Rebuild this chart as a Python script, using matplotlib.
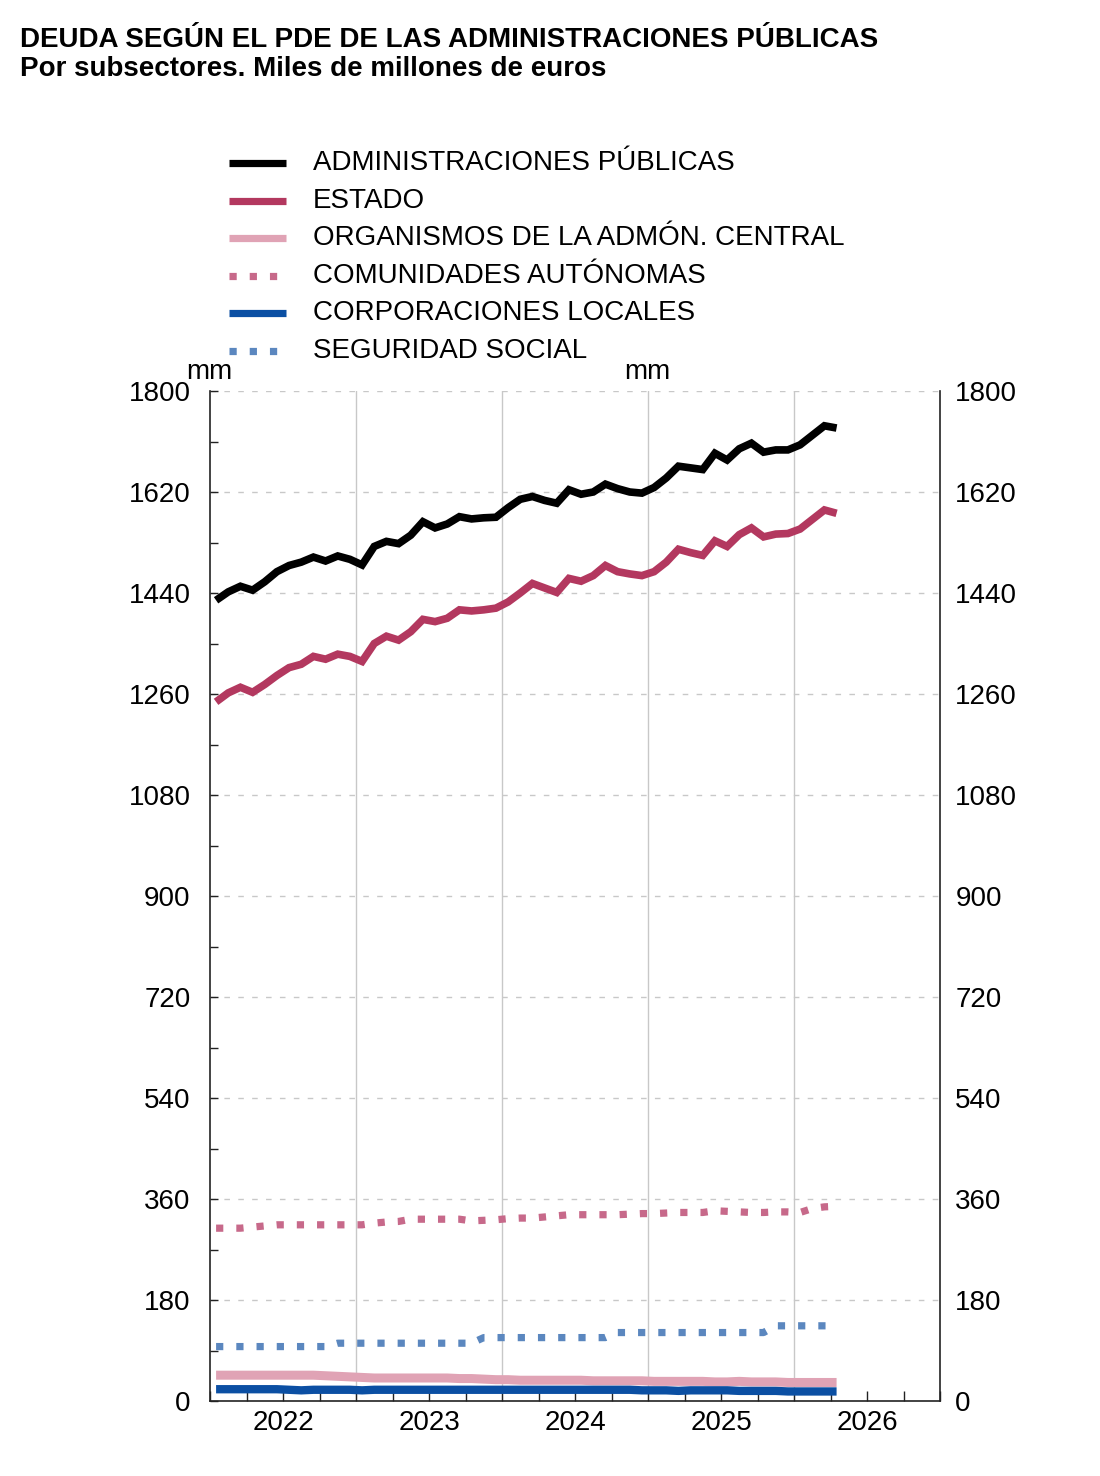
import matplotlib
matplotlib.use("Agg")
import matplotlib.pyplot as plt
import numpy as np
from matplotlib.lines import Line2D

plt.rcParams['font.family'] = ['Liberation Sans', 'DejaVu Sans']

# ---------------- data (monthly, Jan 2022 - Apr 2026) ----------------
months = np.arange(52)  # month index from Jan 2022
adm_publicas = [1427, 1442, 1452, 1445, 1460, 1478, 1489, 1495, 1504, 1497, 1506, 1500,
                1490, 1523, 1532, 1528, 1543, 1567, 1556, 1563, 1576, 1572, 1574, 1575,
                1592, 1607, 1612, 1605, 1600, 1624, 1616, 1620, 1634, 1626, 1620, 1618,
                1628, 1645, 1666, 1663, 1660, 1689, 1677, 1697, 1707, 1691, 1695, 1695,
                1704, 1721, 1738, 1734]
estado = [1246, 1262, 1272, 1263, 1277, 1293, 1307, 1313, 1327, 1322, 1331, 1327,
          1318, 1350, 1363, 1356, 1371, 1393, 1389, 1395, 1410, 1408, 1410, 1413,
          1424, 1440, 1457, 1449, 1441, 1466, 1461, 1471, 1489, 1478, 1474, 1471,
          1478, 1495, 1518, 1512, 1507, 1533, 1523, 1544, 1556, 1540, 1545, 1546,
          1554, 1571, 1588, 1582]
organismos = [46, 46, 46, 46, 46, 46, 46, 46, 46, 45, 44, 43,
              42, 41, 41, 41, 41, 41, 41, 41, 40, 40, 39, 38,
              38, 37, 37, 37, 37, 37, 37, 36, 36, 36, 36, 36,
              35, 35, 35, 35, 35, 34, 34, 35, 34, 34, 34, 33,
              33, 33, 33, 33]
comunidades = [308, 308, 308, 310, 312, 314, 314, 314, 314, 314, 314, 314,
               314, 317, 319, 320, 324, 324, 324, 324, 324, 321, 322, 323,
               325, 326, 326, 328, 330, 332, 332, 332, 332, 332, 333, 334,
               334, 335, 336, 336, 336, 339, 338, 337, 336, 336, 337, 337,
               336, 343, 346, 347]
corp_locales = [21, 21, 21, 21, 21, 21, 20, 19, 20, 20, 20, 20,
                19, 20, 20, 20, 20, 20, 20, 20, 20, 20, 20, 20,
                20, 20, 20, 20, 20, 20, 20, 20, 20, 20, 20, 19,
                19, 19, 18, 19, 19, 19, 19, 18, 18, 18, 18, 17,
                17, 17, 17, 17]
seg_social = [97, 97, 97, 97, 97, 97, 97, 97, 97, 97, 103, 103,
              103, 103, 103, 103, 103, 103, 103, 103, 103, 103, 113, 113,
              113, 113, 113, 113, 113, 113, 113, 113, 113, 122, 122, 122,
              122, 122, 122, 122, 122, 122, 122, 122, 122, 122, 134, 134,
              134, 134, 134, 134]

series_labels = ["ADMINISTRACIONES PÚBLICAS", "ESTADO", "ORGANISMOS DE LA ADMÓN. CENTRAL",
                 "COMUNIDADES AUTÓNOMAS", "CORPORACIONES LOCALES", "SEGURIDAD SOCIAL"]
year_labels = ["2022", "2023", "2024", "2025", "2026"]
y_ticks = [0, 180, 360, 540, 720, 900, 1080, 1260, 1440, 1620, 1800]

# ---------------- styles ----------------
c_black = "#000000"
c_estado = "#b3385f"
c_org = "#e0a3b5"
c_ccaa = "#c7698a"
c_cl = "#0b4fa3"
c_ss = "#5b87bf"
dot = (0, (1, 1.8))
styles = [
    dict(color=c_black, lw=5.5, ls='-'),
    dict(color=c_estado, lw=5.5, ls='-'),
    dict(color=c_org, lw=6.5, ls='-'),
    dict(color=c_ccaa, lw=5.2, ls=dot),
    dict(color=c_cl, lw=6, ls='-'),
    dict(color=c_ss, lw=5.2, ls=dot),
]
data = [adm_publicas, estado, organismos, comunidades, corp_locales, seg_social]

FS = 20
W, H = 1100, 1476
fig = plt.figure(figsize=(W / 100, H / 100), dpi=100)
ax = fig.add_axes([210 / W, 1 - 1401 / H, (940 - 210) / W, (1401 - 391) / H])

x = months + 0.5  # mid-month position, axis in months from Jan 2022
order = [2, 4, 5, 3, 1, 0]
for k in order:
    s = styles[k]
    ax.plot(x, data[k], color=s['color'], lw=s['lw'], linestyle=s['ls'],
            solid_capstyle='butt', dash_capstyle='butt', solid_joinstyle='miter', zorder=3 + k * 0.1)

ax.set_xlim(0, 60)
ax.set_ylim(0, 1800)

# grids
for yv in y_ticks[1:]:
    ax.axhline(yv, color='#c8c8c8', lw=1, ls=(0, (4, 6)), zorder=1)
for xv in [12, 24, 36, 48]:
    ax.axvline(xv, color='#c8c8c8', lw=1, zorder=1)

ax.spines['top'].set_visible(False)
for sp in ['left', 'right', 'bottom']:
    ax.spines[sp].set_linewidth(1.2)
    ax.spines[sp].set_color('#222222')

ax.set_yticks(y_ticks)
ax.set_yticks(np.arange(90, 1800, 180), minor=True)
ax.set_yticklabels([str(v) for v in y_ticks])
ax.tick_params(axis='y', which='both', direction='in', length=6, width=1, left=True, right=True,
               labelleft=True, labelright=False, labelsize=FS, pad=14, colors='#222222', labelcolor='black')

# right axis labels
ax2 = ax.twinx()
ax2.set_ylim(0, 1800)
ax2.set_yticks(y_ticks)
ax2.set_yticklabels([str(v) for v in y_ticks])
ax2.tick_params(axis='y', which='both', length=0, labelsize=FS, pad=11, labelcolor='black')
for sp in ax2.spines.values():
    sp.set_visible(False)

ax.set_xticks(np.arange(0, 61, 3))
ax.set_xticklabels([])
ax.tick_params(axis='x', which='major', direction='in', length=7, width=1, colors='#222222')
for i, lab in enumerate(year_labels):
    ax.text(6 + 12 * i, -22 / 1010, lab, transform=ax.get_xaxis_transform(),
            fontsize=FS, ha='center', va='center')

# unit labels
fig.text(186 / W, 1 - 372 / H, "mm", fontsize=FS, va='center', ha='left')
fig.text(624 / W, 1 - 372 / H, "mm", fontsize=FS, va='center', ha='left')

# titles
fig.text(20 / W, 1 - 40 / H, "DEUDA SEGÚN EL PDE DE LAS ADMINISTRACIONES PÚBLICAS",
         fontsize=20, fontweight='bold', va='center', ha='left')
fig.text(20 / W, 1 - 69 / H, "Por subsectores. Miles de millones de euros",
         fontsize=20, fontweight='bold', va='center', ha='left')

# legend (manual)
rows = [163, 201, 238, 276, 313, 351]
for k, yr in enumerate(rows):
    s = styles[k]
    yy = 1 - yr / H
    fig.add_artist(Line2D([229 / W, 286 / W], [yy, yy], transform=fig.transFigure,
                          color=s['color'], lw=5.2, linestyle=s['ls'],
                          solid_capstyle='butt', dash_capstyle='butt'))
    fig.text(313 / W, yy, series_labels[k], fontsize=FS, va='center', ha='left')

fig.savefig("out.png", dpi=100, facecolor='white')
